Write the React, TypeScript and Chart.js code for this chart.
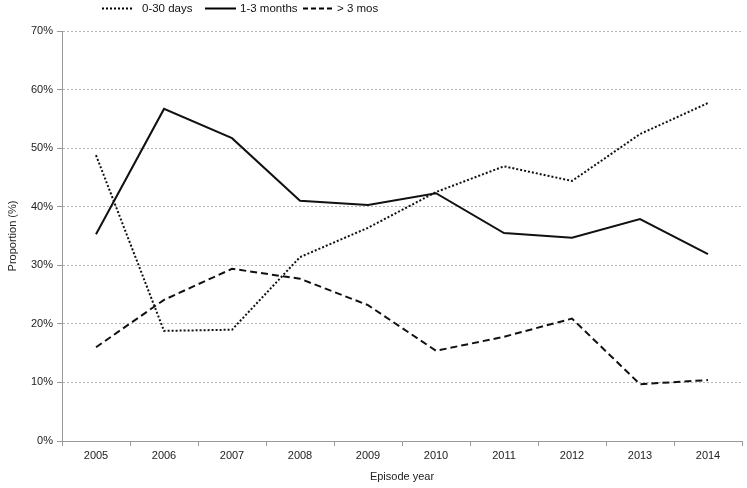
import React, { useEffect, useRef } from "react";
import { Chart, registerables } from "chart.js";

Chart.register(...registerables);

const years = ["2005", "2006", "2007", "2008", "2009", "2010", "2011", "2012", "2013", "2014"];
const days0to30 = [48.8, 18.8, 19.0, 31.4, 36.4, 42.5, 46.9, 44.4, 52.4, 57.7];
const months1to3 = [35.3, 56.7, 51.7, 41.0, 40.3, 42.3, 35.5, 34.7, 37.9, 31.9];
const over3mos = [16.0, 24.1, 29.4, 27.7, 23.2, 15.4, 17.8, 20.9, 9.7, 10.4];
const seriesNames = ["0-30 days", "1-3 months", "> 3 mos"];
const yTicks = [0, 10, 20, 30, 40, 50, 60, 70];

const FONT = '"Liberation Sans", Arial, sans-serif';

const legendPlugin = {
  id: "customLegend",
  afterDraw(chart: any) {
    const ctx = chart.ctx;
    const items = [
      { x0: 102, x1: 134, tx: 142, dash: [2, 2] },
      { x0: 205, x1: 236, tx: 240, dash: [] },
      { x0: 303, x1: 334, tx: 337, dash: [5, 3] },
    ];
    const y = 8.5;
    ctx.save();
    items.forEach((it, i) => {
      ctx.beginPath();
      ctx.setLineDash(it.dash);
      ctx.strokeStyle = "#000";
      ctx.lineWidth = 2;
      ctx.moveTo(it.x0, y);
      ctx.lineTo(it.x1, y);
      ctx.stroke();
      ctx.setLineDash([]);
      ctx.fillStyle = "#111";
      ctx.font = `11.5px ${FONT}`;
      ctx.textBaseline = "middle";
      ctx.textAlign = "left";
      ctx.fillText(seriesNames[i], it.tx, y + 0.5);
    });
    ctx.restore();
  },
};

export default function App() {
  const ref = useRef<HTMLCanvasElement>(null);
  useEffect(() => {
    document.body.style.margin = "0";
    const chart = new Chart(ref.current!, {
      type: "line",
      data: {
        labels: years,
        datasets: [
          {
            label: seriesNames[0],
            data: days0to30,
            borderColor: "#111",
            borderWidth: 2,
            borderDash: [2, 2],
            pointRadius: 0,
            fill: false,
            tension: 0,
          },
          {
            label: seriesNames[1],
            data: months1to3,
            borderColor: "#111",
            borderWidth: 2,
            pointRadius: 0,
            fill: false,
            tension: 0,
          },
          {
            label: seriesNames[2],
            data: over3mos,
            borderColor: "#111",
            borderWidth: 2,
            borderDash: [7, 4],
            pointRadius: 0,
            fill: false,
            tension: 0,
          },
        ],
      },
      options: {
        animation: false,
        responsive: true,
        maintainAspectRatio: false,
        layout: { padding: { top: 31, right: 5, left: 0, bottom: 0 } },
        plugins: {
          legend: { display: false },
          tooltip: { enabled: false },
        },
        scales: {
          x: {
            offset: true,
            grid: {
              display: true,
              drawOnChartArea: false,
              drawTicks: true,
              tickLength: 5,
              tickColor: "#999",
              offset: true,
            },
            border: { display: true, color: "#999", width: 1 },
            ticks: {
              color: "#222",
              font: { family: FONT, size: 11 },
              padding: 3,
              maxRotation: 0,
            },
            title: {
              display: true,
              text: "Episode year",
              color: "#222",
              font: { family: FONT, size: 11 },
              padding: { top: 4, bottom: 4 },
            },
            afterFit(scale: any) {
              scale.height = 47;
            },
          },
          y: {
            min: 0,
            max: 70,
            afterBuildTicks(scale: any) {
              scale.ticks = yTicks.map((v) => ({ value: v }));
            },
            grid: {
              color: "#b5b5b5",
              lineWidth: 1,
              drawTicks: true,
              tickLength: 5,
              tickColor: "#999",
              tickBorderDash: [],
            },
            border: { display: true, color: "#999", width: 1, dash: [2, 2] },
            ticks: {
              color: "#222",
              font: { family: FONT, size: 11 },
              padding: 4,
              callback: (v: any) => `${v}%`,
            },
            title: {
              display: true,
              text: "Proportion (%)",
              color: "#222",
              font: { family: FONT, size: 11 },
              padding: { top: 6, bottom: 4 },
            },
            afterFit(scale: any) {
              scale.width = 62;
            },
          },
        },
      },
      plugins: [legendPlugin],
    });
    return () => chart.destroy();
  }, []);
  return (
    <div style={{ position: "relative", width: 747, height: 488 }}>
      <canvas ref={ref} />
    </div>
  );
}
